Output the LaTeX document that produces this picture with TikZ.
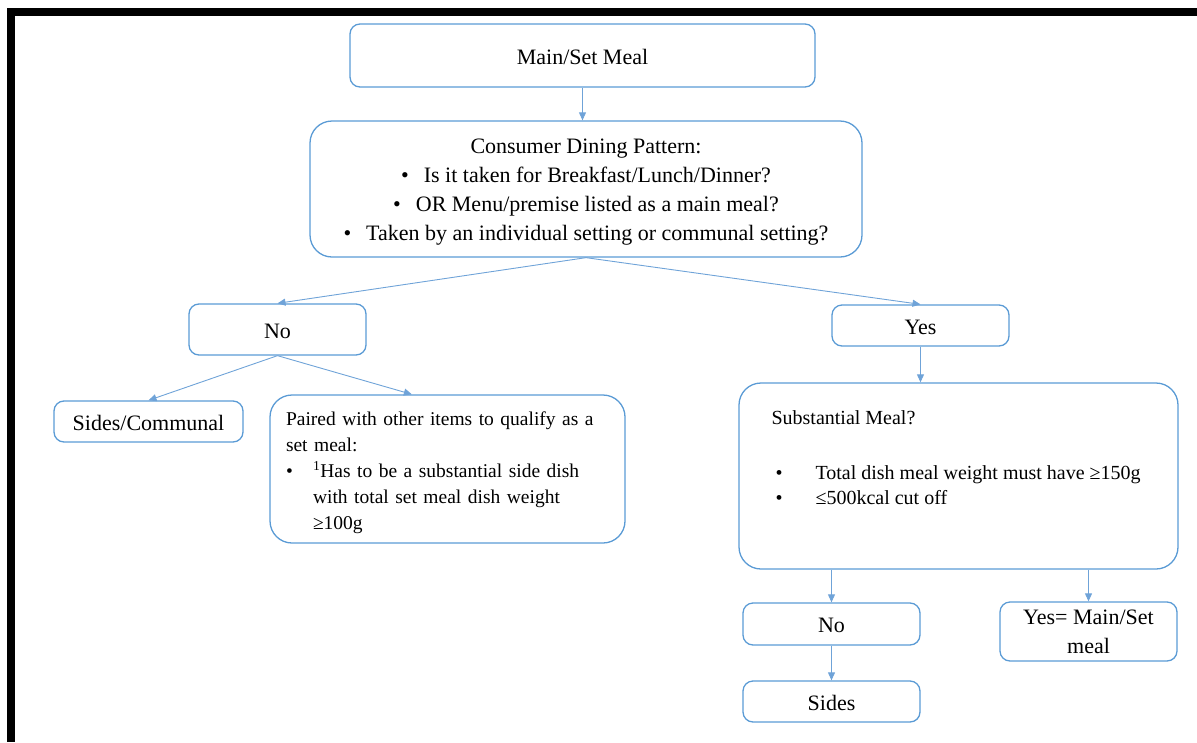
\documentclass[tikz,border=0pt]{standalone}
\usepackage{fontspec}
\setmainfont{Liberation Serif}
\usetikzlibrary{arrows.meta,positioning,calc}
\definecolor{BoxBlue}{HTML}{5B9BD5}
\definecolor{LineBlue}{HTML}{6FA3D8}

\begin{document}
\begin{tikzpicture}[x=1pt,y=-1pt,
  box/.style={draw=BoxBlue,line width=1.3pt,rounded corners=10pt,inner sep=0pt,align=center,font=\fontsize{22}{29}\selectfont},
  oneline/.style={box,text height=17pt,text depth=0pt},
  bigbox/.style={box,rounded corners=22pt},
  flow/.style={draw=LineBlue,line width=0.9pt,-{Triangle[length=8pt,width=7pt]}}]
  \useasboundingbox (0,0) rectangle (1197,742);
  % frame
  \fill (7,8) rectangle (1197,16);
  \fill (7,8) rectangle (15,742);
  % boxes
  \node[oneline,minimum width=465pt,minimum height=63pt] (main) at (582.5,55.5) {Main/Set Meal};
  \node[bigbox,minimum width=552pt,minimum height=136pt] (pattern) at (586,189)
    {\rule{0pt}{21.5pt}Consumer Dining Pattern:\\
     \textbullet\hspace{15pt}Is it taken for Breakfast/Lunch/Dinner?\\
     \textbullet\hspace{15pt}OR Menu/premise listed as a main meal?\\
     \textbullet\hspace{15pt}Taken by an individual setting or communal setting?};
  \node[oneline,minimum width=177pt,minimum height=51pt] (no) at (277.5,329.5) {No};
  \node[oneline,minimum width=177pt,minimum height=41pt] (yes) at (920.5,325.5) {Yes};
  \node[oneline,minimum width=189pt,minimum height=41pt] (communal) at (148.5,421.5) {Sides/Communal};
  \node[bigbox,text width=323pt,inner xsep=16pt,minimum height=148pt,align=left,font=\fontsize{19.5}{26}\selectfont] (paired) at (447.5,469)
    {\rule{0pt}{21.5pt}Paired with other items to qualify as a\\
     set meal:\\
     \makebox[27pt][l]{\textbullet}\textsuperscript{1}Has to be a substantial side dish\\
     \hspace*{27pt}with total set meal dish weight\\
     \hspace*{27pt}≥100g};
  \node[bigbox,minimum width=439pt,minimum height=186pt] (substantial) at (958.5,476) {};
  \node[below right=28pt and 33pt of substantial.north west,inner sep=0pt,align=left,font=\fontsize{20}{25}\selectfont] (substtext)
    {Substantial Meal?\\[30pt]
     \hspace*{4pt}\makebox[40pt][l]{\textbullet}Total dish meal weight must have ≥150g\\
     \hspace*{4pt}\makebox[40pt][l]{\textbullet}≤500kcal cut off};
  \node[oneline,minimum width=177pt,minimum height=42pt] (no2) at (831.5,624) {No};
  \node[box,minimum width=177pt,minimum height=59pt] (final) at (1088.5,631.5) {Yes= Main/Set\\meal};
  \node[oneline,minimum width=177pt,minimum height=41pt] (sides) at (831.5,701.5) {Sides};
  % arrows
  \coordinate (pairedtop) at ($(paired.north west)!0.4!(paired.north east)$);
  \draw[flow] (main.south) -- (main.south |- pattern.north);
  \draw[flow] (pattern.south) -- (no.north);
  \draw[flow] (pattern.south) -- (yes.north);
  \draw[flow] (no.south) -- (communal.north);
  \draw[flow] (no.south) -- (pairedtop);
  \draw[flow] (yes.south) -- (yes.south |- substantial.north);
  \draw[flow] (substantial.south -| no2.north) -- (no2.north);
  \draw[flow] (substantial.south -| final.north) -- (final.north);
  \draw[flow] (no2.south) -- (sides.north);
\end{tikzpicture}
\end{document}
